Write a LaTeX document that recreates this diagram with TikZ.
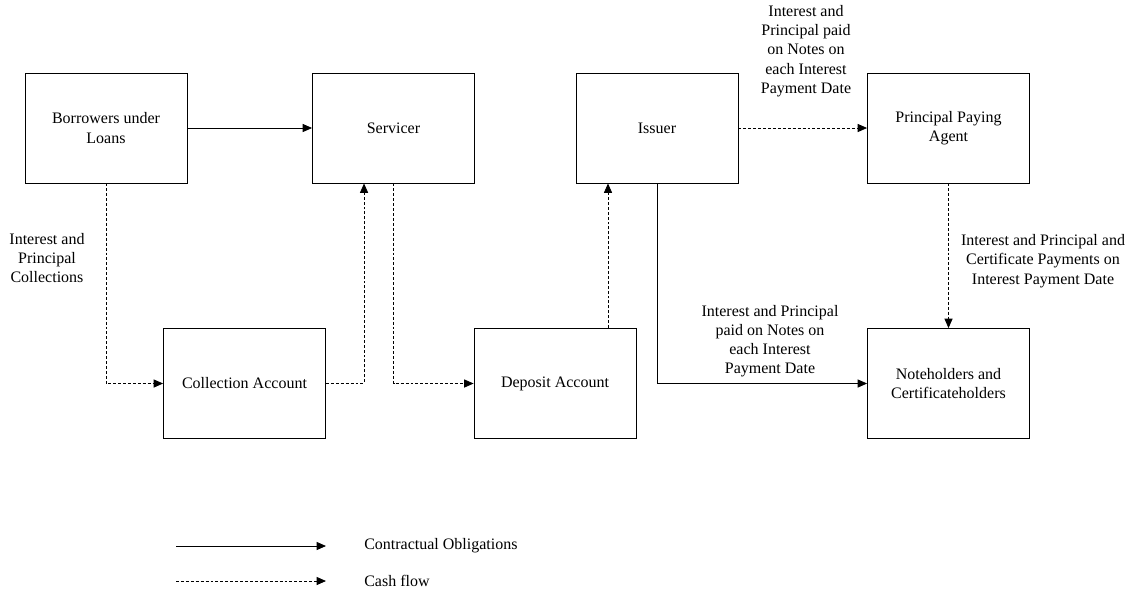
\documentclass[tikz,border=0pt]{standalone}
\usepackage{fontspec}
\setmainfont{Liberation Serif}
\usetikzlibrary{arrows.meta}
\begin{document}
\begin{tikzpicture}[x=0.75pt,y=-0.75pt,
  txt/.style={font=\fontsize{12}{14.4}\selectfont, align=center, inner sep=0pt},
  box/.style={txt, draw, line width=0.65pt, minimum width=121.5pt, minimum height=82.5pt},
  contract/.style={line width=0.6pt, -{Triangle[length=7pt,width=6pt]}},
  cash/.style={line width=0.6pt, dash pattern=on 2.2pt off 1.5pt, -{Triangle[length=7pt,width=6pt]}}
]
\useasboundingbox (0,0) rectangle (1134,601);

% boxes
\node[box] (bor) at (106,128) {Borrowers under\\Loans};
\node[box] (ser) at (393.5,128) {Servicer};
\node[box] (iss) at (657,128) {Issuer};
\node[box] (ppa) at (948.5,128) {Principal Paying\\Agent};
\node[box] (col) at (244.5,383.5) {Collection Account};
\node[box] (dep) at (555,383.5) {Deposit Account};
\node[box] (note) at (948.5,383.5) {Noteholders and\\Certificateholders};

% labels
\node[txt] (lab1) at (47,258) {Interest and\\Principal\\Collections};
\node[txt] (lab2) at (806,51) {Interest and\\Principal paid\\on Notes on\\each Interest\\Payment Date};
\node[txt] (lab3) at (770,341) {Interest and Principal\\paid on Notes on\\each Interest\\Payment Date};
\node[txt] (lab4) at (1043,261) {Interest and Principal and\\Certificate Payments on\\Interest Payment Date};

% connectors
\draw[contract] (bor) -- (ser);
\draw[cash] (bor.south) |- (col.west);
\draw[cash] (col.east) -| ([xshift=-22.1pt]ser.south);
\draw[cash] (ser.south) |- (dep.west);
\draw[cash] ([xshift=39.75pt]dep.north) -- ([xshift=39.75pt]dep.north |- iss.south);
\draw[contract] (iss.south) |- (note.west);
\draw[cash] (iss) -- (ppa);
\draw[cash] (ppa) -- (note);

% legend
\coordinate (l1a) at (176,546);
\coordinate (l1b) at (326,546);
\coordinate (l2a) at (176,581);
\coordinate (l2b) at (326,581);
\draw[contract] (l1a) -- (l1b);
\draw[cash] (l2a) -- (l2b);
\node[txt, anchor=west] (leg1) at (364,546) {Contractual Obligations};
\node[txt, anchor=west] (leg2) at (364,581) {Cash flow};
\end{tikzpicture}
\end{document}
